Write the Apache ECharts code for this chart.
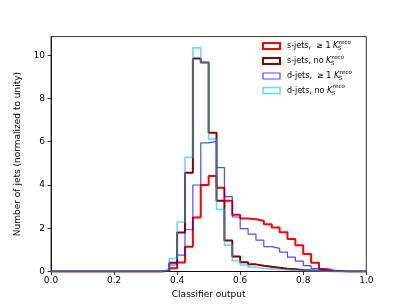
<!DOCTYPE html>
<html><head><meta charset="utf-8">
<script src="https://cdn.jsdelivr.net/npm/echarts@6/dist/echarts.min.js"></script>
<style>html,body{margin:0;padding:0;background:#fff}#c{width:407px;height:305px}</style>
</head><body><div id="c"></div>
<script>
// bin edges (0 .. 1, 40 bins)
const binEdges = [0,0.025,0.05,0.075,0.1,0.125,0.15,0.175,0.2,0.225,0.25,0.275,0.3,0.325,0.35,0.375,0.4,0.425,0.45,0.475,0.5,0.525,0.55,0.575,0.6,0.625,0.65,0.675,0.7,0.725,0.75,0.775,0.8,0.825,0.85,0.875,0.9,0.925,0.95,0.975,1.0];
const sJetsK = [0,0,0,0,0,0,0,0,0,0,0,0,0,0,
  0.03,0.15,0.42,1.14,2.5,4.0,4.42,3.87,3.27,2.62,2.45,2.42,2.35,2.18,2.04,1.82,1.5,1.21,0.81,0.41,0.12,0.03,0.01,0,0,0];
const sJetsNoK = [0,0,0,0,0,0,0,0,0,0,0,0,0,0,
  0.05,0.4,1.8,4.57,9.85,9.66,6.41,3.27,1.43,0.69,0.43,0.33,0.27,0.22,0.17,0.13,0.1,0.07,0.05,0.03,0.02,0.01,0.01,0.005,0,0];
const dJetsK = [0,0,0,0,0,0,0,0,0,0,0,0,0,0,
  0.05,0.3,0.76,1.93,4.0,5.95,6.02,4.8,3.46,2.52,1.98,1.73,1.45,1.15,1.07,0.9,0.66,0.48,0.27,0.13,0.05,0.02,0,0,0,0];
const dJetsNoK = [0,0,0,0,0,0,0,0,0,0,0,0,0,0,
  0.08,0.6,2.29,5.28,10.34,9.66,6.12,2.87,1.22,0.5,0.3,0.2,0.15,0.12,0.09,0.07,0.05,0.04,0.03,0.02,0.01,0.01,0,0,0,0];
const xTicks = [0,0.2,0.4,0.6,0.8,1.0];
const yTicks = [0,2,4,6,8,10];
const legendPrefix = ['s-jets,  \u2265 1 ', 's-jets, no ', 'd-jets,  \u2265 1 ', 'd-jets, no '];

const styles = [
  {color:'#ff0000', width:2},
  {color:'#8b0000', width:2},
  {color:'rgba(0,0,255,0.7)', width:1.2},
  {color:'rgba(0,191,255,0.6)', width:1.6}
];
const allSeries = [sJetsK, sJetsNoK, dJetsK, dJetsNoK];

function stepData(vals){
  const d = vals.map((v,i)=>[binEdges[i], v]);
  d.unshift([binEdges[0], 0]);
  d.push([binEdges[binEdges.length-1], vals[vals.length-1]]);
  d.push([binEdges[binEdges.length-1], 0]);
  return d;
}

const FONT = '"DejaVu Sans", sans-serif';
const chart = echarts.init(document.getElementById('c'), null, {renderer:'canvas'});

// legend built with graphic elements (for the K_S^reco math text)
const ctx = document.createElement('canvas').getContext('2d');
ctx.font = '8px "DejaVu Sans"';
const graphic = [];
const legY = [46, 61, 76, 90.5];
const legX = 263, textX = 287;
legendPrefix.forEach((p, i) => {
  graphic.push({type:'rect', shape:{x:legX, y:legY[i]-3, width:17, height:6},
    style:{fill:'none', stroke:styles[i].color, lineWidth:styles[i].width}, z:100});
  graphic.push({type:'text', x:textX, y:legY[i], style:{text:p, font:'8px '+FONT, fill:'#000', verticalAlign:'middle'}, z:100});
  const w = ctx.measureText(p).width;
  ctx.font = 'italic 8px "DejaVu Sans"';
  const kw = ctx.measureText('K').width;
  ctx.font = '8px "DejaVu Sans"';
  graphic.push({type:'text', x:textX+w, y:legY[i], style:{text:'K', font:'italic 8px '+FONT, fill:'#000', verticalAlign:'middle'}, z:100});
  graphic.push({type:'text', x:textX+w+kw+0.5, y:legY[i]-3.5, style:{text:'reco', font:'italic 5.6px '+FONT, fill:'#000', verticalAlign:'middle'}, z:100});
  graphic.push({type:'text', x:textX+w+kw-0.5, y:legY[i]+3, style:{text:'S', font:'italic 5.6px '+FONT, fill:'#000', verticalAlign:'middle'}, z:100});
});

const option = {
  animation:false,
  backgroundColor:'#fff',
  grid:{left:51, right:40.7, top:36.6, bottom:33.5, show:true, borderColor:'#000', borderWidth:0.8, backgroundColor:'transparent'},
  xAxis:{type:'value', min:0, max:1, interval:0.2,
    name:'Classifier output', nameLocation:'middle', nameGap:15,
    nameTextStyle:{fontFamily:FONT, fontSize:9, color:'#000'},
    axisLine:{show:true, onZero:false, lineStyle:{color:'#000', width:0.8}},
    axisTick:{show:true, inside:false, length:3.5, lineStyle:{color:'#000', width:0.8}, customValues:xTicks},
    axisLabel:{fontFamily:FONT, fontSize:9, color:'#000', margin:5, customValues:xTicks, formatter:v=>Number(v).toFixed(1)},
    splitLine:{show:false}},
  yAxis:{type:'value', min:0, max:10.86, interval:2,
    name:'Number of jets (normalized to unity)', nameLocation:'middle', nameGap:24,
    nameTextStyle:{fontFamily:FONT, fontSize:9, color:'#000'},
    axisLine:{show:true, onZero:false, lineStyle:{color:'#000', width:0.8}},
    axisTick:{show:true, inside:false, length:3.5, lineStyle:{color:'#000', width:0.8}, customValues:yTicks},
    axisLabel:{fontFamily:FONT, fontSize:9, color:'#000', margin:6, customValues:yTicks, formatter:v=>String(Math.round(v))},
    splitLine:{show:false}},
  series: allSeries.map((vals,i)=>({
    type:'line', step:'end', data:stepData(vals), symbol:'none', clip:true,
    lineStyle:{color:styles[i].color, width:styles[i].width},
    z: 2+i
  })),
  graphic: graphic
};
chart.setOption(option);
</script></body></html>
